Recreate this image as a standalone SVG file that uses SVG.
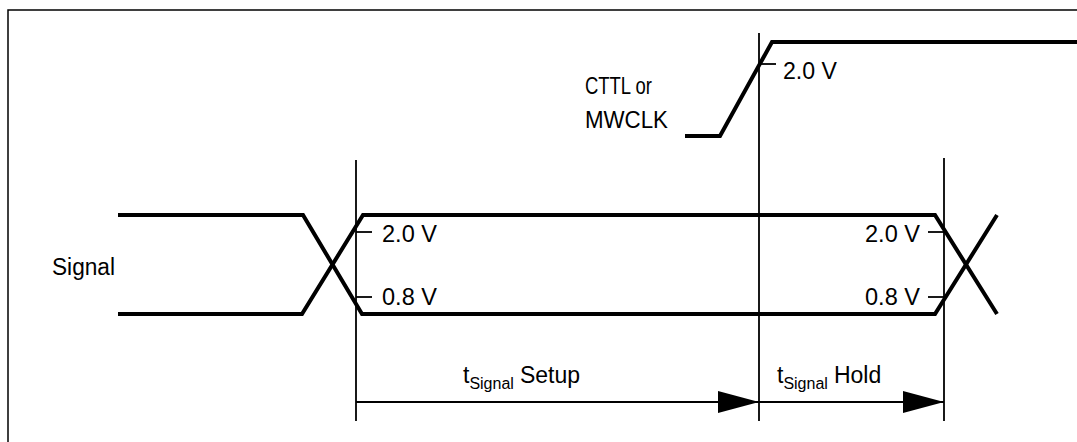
<svg xmlns="http://www.w3.org/2000/svg" width="1077" height="442" viewBox="0 0 1077 442">
<style>
.bg{fill:#fff}
.frame{fill:none;stroke:#000;stroke-width:1.5}
.sig{fill:none;stroke:#000;stroke-width:4;stroke-linejoin:miter}
.thin{fill:none;stroke:#000;stroke-width:1.8}
.t{font-family:"Liberation Sans",Arial,sans-serif;font-size:23px;fill:#000}
.sub{font-size:16px}
</style>
<defs>
<marker id="ah" markerUnits="userSpaceOnUse" markerWidth="42" markerHeight="22" refX="41" refY="11" orient="auto">
<path d="M0,0 L41,11 L0,22 Z" fill="#000"/>
</marker>
</defs>
<rect class="bg" x="0" y="0" width="1077" height="442"/>
<path class="frame" d="M8,442 V10 H1077"/>

<g id="clock">
<path class="sig" d="M685,136 H720 L772,42 H1077"/>
<line class="thin" x1="759" y1="64" x2="776" y2="64"/>
<text class="t" x="783" y="79" textLength="54" lengthAdjust="spacingAndGlyphs">2.0 V</text>
<text class="t" x="585" y="94" textLength="67" lengthAdjust="spacingAndGlyphs">CTTL or</text>
<text class="t" x="585" y="128" textLength="83" lengthAdjust="spacingAndGlyphs">MWCLK</text>
</g>

<g id="signal">
<path class="sig" d="M118,215 H303 L362,314 H935 L997,215"/>
<path class="sig" d="M118,314 H302 L363,215 H935 L997,314"/>
<text class="t" x="52" y="275" textLength="63" lengthAdjust="spacingAndGlyphs">Signal</text>
<line class="thin" x1="356" y1="232" x2="372" y2="232"/>
<line class="thin" x1="356" y1="297" x2="372" y2="297"/>
<text class="t" x="382" y="242" textLength="55" lengthAdjust="spacingAndGlyphs">2.0 V</text>
<text class="t" x="382" y="305" textLength="55" lengthAdjust="spacingAndGlyphs">0.8 V</text>
<line class="thin" x1="928" y1="232" x2="944" y2="232"/>
<line class="thin" x1="928" y1="297" x2="944" y2="297"/>
<text class="t" x="865" y="242" textLength="55" lengthAdjust="spacingAndGlyphs">2.0 V</text>
<text class="t" x="865" y="305" textLength="55" lengthAdjust="spacingAndGlyphs">0.8 V</text>
</g>

<g id="setup">
<text class="t" x="463" y="383">t<tspan class="sub" dy="6">Signal</tspan><tspan dy="-6" dx="6">Setup</tspan></text>
</g>
<g id="hold">
<text class="t" x="777" y="383">t<tspan class="sub" dy="6">Signal</tspan><tspan dy="-6" dx="6">Hold</tspan></text>
</g>

<g id="connectors">
<line class="thin" x1="356" y1="160" x2="356" y2="421"/>
<line class="thin" x1="759" y1="33" x2="759" y2="421"/>
<line class="thin" x1="944" y1="158" x2="944" y2="421"/>
<line class="thin" x1="356" y1="402" x2="759" y2="402" marker-end="url(#ah)"/>
<line class="thin" x1="759" y1="402" x2="944" y2="402" marker-end="url(#ah)"/>
</g>
</svg>
